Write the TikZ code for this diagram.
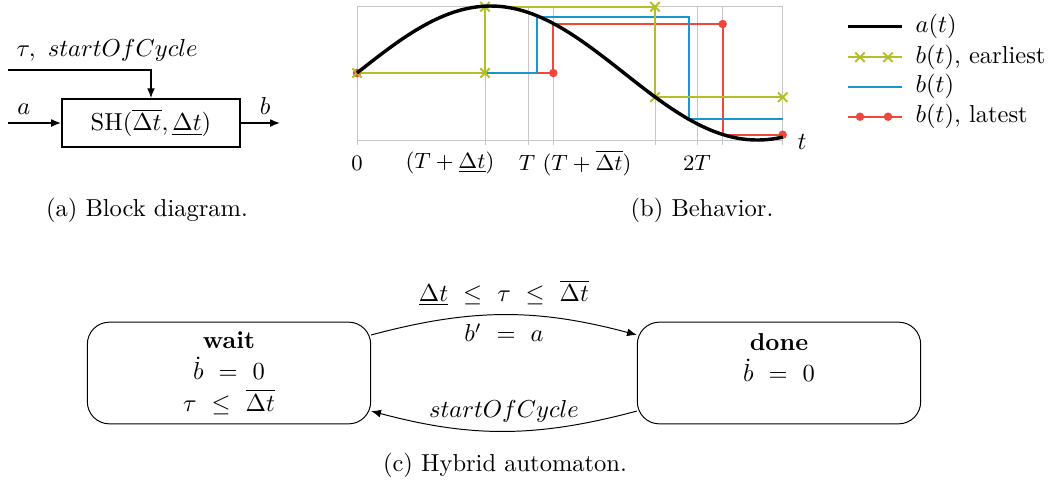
\documentclass[tikz,border=0pt]{standalone}
\usepackage{tikz}
\usepackage{amssymb}
\usetikzlibrary{positioning, arrows.meta, calc}
\definecolor{earliestc}{HTML}{B4BE28}
\definecolor{nominalc}{HTML}{1996D2}
\definecolor{latestc}{HTML}{F0463C}

\begin{document}
\begin{tikzpicture}[x=0.408pt, y=-0.408pt,
  blk/.style={draw, thick, minimum width=72.6pt, minimum height=19.5pt, inner sep=2pt},
  sig/.style={-{Latex[length=4pt, width=3.2pt]}, semithick},
  state/.style={draw, rounded corners=9pt, minimum width=115.6pt, minimum height=41.5pt, align=center},
  trans/.style={-{Latex[length=4pt, width=3.2pt]}},
  gridln/.style={gray!45, line width=0.4pt},
  acurve/.style={black, line width=1.4pt},
  earliest/.style={earliestc, thick, mark=x, mark size=2.7pt},
  nominal/.style={nominalc, thick},
  latest/.style={latestc, thick, mark=*, mark size=1.3pt}
]
  \useasboundingbox (0,0) rectangle (1052,487);

  % (a) block diagram
  \node[blk] (sh) at (151,123) {SH$(\overline{\Delta t},\underline{\Delta t})$};
  \coordinate (ain) at (8,123);
  \coordinate (bout) at (280,123);
  \coordinate (tin) at (8,70);
  \draw[sig] (ain) -- node[above, pos=0.3] (alab) {$a$} (sh);
  \draw[sig] (sh) -- node[above, pos=0.62] (blab) {$b$} (bout);
  \draw[sig] (tin) -| (sh);
  \node[above right] (tlab) at (tin) {$\tau,\ startOfCycle$};
  \node (capa) at (147,210) {(a) Block diagram.};

  % (b) behavior
  \foreach \gx in {357,485,528.3,553.3,655,697.3,722.7,782.7}
    \draw[gridln] (\gx,6.7) -- (\gx,145);
  \draw[gridln] (357,6.7) -- (782.7,6.7);
  \draw[gridln] (357,140) -- (782.7,140);
  \node[font=\small] (tk0) at (357,163) {$0$};
  \node[font=\small] (tk1) at (450,163) {$(T+\underline{\Delta t})$};
  \node[font=\small] (tk2) at (527,163) {$T$};
  \node[font=\small] (tk3) at (587,163) {$(T+\overline{\Delta t})$};
  \node[font=\small] (tk4) at (697,163) {$2T$};
  \node (tax) at (802,142) {$t$};

  \draw[latest] plot[mark indices={1,2,4,6}] coordinates
    {(357,73) (553.3,73) (553.3,24) (722.7,24) (722.7,134.7) (782.7,134.7)};
  \draw[nominal] (357,73) -- (536.7,73) -- (536.7,16.7) -- (689.3,16.7)
    -- (689.3,118.7) -- (782.7,118.7);
  \draw[earliest] plot coordinates
    {(357,73) (485,73) (485,6.7) (655,6.7) (655,97.3) (782.7,97.3)};
  \draw[acurve] plot[domain=357:782.7, samples=120, smooth]
    (\x, {73-67*sin(360*((\x-357)/534))});

  % legend
  \draw[acurve] (848,26.7) -- (902,26.7);
  \draw[earliest] (848,57.3) -- (902,57.3);
  \draw[earliest] plot[only marks] coordinates {(860,57.3) (888,57.3)};
  \draw[nominal] (848,86.7) -- (902,86.7);
  \draw[latest] (848,116.7) -- (902,116.7);
  \draw[latest] plot[only marks] coordinates {(860,116.7) (888,116.7)};
  \node[right] (la) at (907,26.7) {$a(t)$};
  \node[right] (le) at (907,57.3) {$b(t)$, earliest};
  \node[right] (ln) at (907,86.7) {$b(t)$};
  \node[right] (ll) at (907,116.7) {$b(t)$, latest};
  \node (capb) at (702,210) {(b) Behavior.};

  % (c) hybrid automaton
  \node[state] (wait) at (229,373)
    {\textbf{wait}\\[0.8pt]$\dot{b}\ =\ 0$\\[0.8pt]$\tau\ \leq\ \overline{\Delta t}$};
  \node[state] (done) at (779,373)
    {\textbf{done}\\[0.8pt]$\dot{b}\ =\ 0$\\[0.8pt]\phantom{$0$}};
  \draw[trans] (wait) to[bend left=15]
    node[above] (guard) {$\underline{\Delta t}\ \leq\ \tau\ \leq\ \overline{\Delta t}$}
    node[below] (reset) {$b'\ =\ a$} (done);
  \draw[trans] (done) to[bend left=15] node[above] (soc) {$startOfCycle$} (wait);
  \node (capc) at (505,465) {(c) Hybrid automaton.};
\end{tikzpicture}
\end{document}
